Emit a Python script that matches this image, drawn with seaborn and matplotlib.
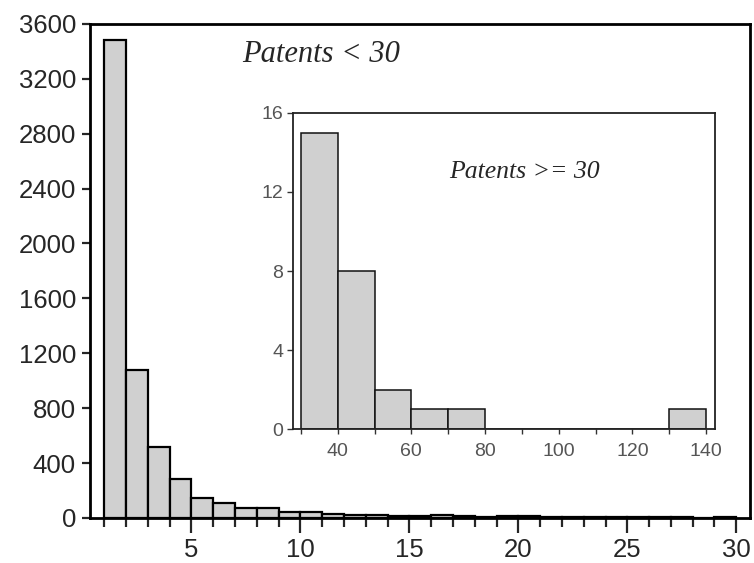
import pandas as pd
import matplotlib.pyplot as plt
import seaborn as sns

# patents below 30: bins of width 1 starting at 1, 2, ..., 29
low_starts = list(range(1, 30))
low_counts = [3480, 1080, 520, 284, 145, 110, 72, 72, 45, 42,
              32, 22, 20, 14, 12, 20, 12, 8, 12, 12,
              6, 5, 5, 5, 5, 5, 4, 1, 6]

# patents of 30 and above: bins of width 10 starting at 30, 40, ..., 130
high_starts = list(range(30, 140, 10))
high_counts = [15, 8, 2, 1, 1, 0, 0, 0, 0, 0, 1]

main_yticks = [0, 400, 800, 1200, 1600, 2000, 2400, 2800, 3200, 3600]
main_xticks = [5, 10, 15, 20, 25, 30]
inset_yticks = [0, 4, 8, 12, 16]
inset_xticks = [40, 60, 80, 100, 120, 140]
inset_minor = [30, 50, 70, 90, 110, 130]

low_df = pd.DataFrame({'patents': low_starts, 'firms': low_counts})
high_df = pd.DataFrame({'patents': high_starts, 'firms': high_counts})

sns.set_style('ticks')
plt.rcParams['font.family'] = ['Liberation Sans', 'DejaVu Sans']

fig = plt.figure(figsize=(7.54, 5.63), dpi=100)

# main histogram
ax = fig.add_axes([0.120, 0.080, 0.875, 0.8775])
sns.histplot(data=low_df, x='patents', weights='firms', binwidth=1, binrange=(1, 30),
             common_bins=False, ax=ax, color='#d0d0d0', edgecolor='black',
             linewidth=1.6, alpha=1)
ax.set_xlim(0.37, 30.64)
ax.set_ylim(0, 3600)
ax.set_xlabel('')
ax.set_ylabel('')
ax.set_yticks(main_yticks)
ax.set_xticks(main_xticks)
ax.set_xticks(range(1, 31), minor=True)
for side in ['left', 'right', 'top', 'bottom']:
    ax.spines[side].set_visible(True)
    ax.spines[side].set_linewidth(2)
    ax.spines[side].set_color('black')
ax.tick_params(axis='x', which='major', length=11, width=1.6, labelsize=18.5, pad=3.5)
ax.tick_params(axis='x', which='minor', length=6.5, width=1.6)
ax.tick_params(axis='y', length=6, width=1.6, labelsize=18.5, pad=4.5)
fig.text(0.3206, 0.8904, 'Patents < 30', family=['Liberation Serif'],
         style='italic', fontsize=22, va='baseline')

# inset histogram
axi = fig.add_axes([0.3882, 0.2380, 0.5601, 0.5613])
axi.set_facecolor('white')
sns.histplot(data=high_df, x='patents', weights='firms', binwidth=10, binrange=(30, 140),
             common_bins=False, ax=axi, color='#d0d0d0', edgecolor='#111111',
             linewidth=1.1, alpha=1)
axi.set_xlim(27.8, 142.4)
axi.set_ylim(0, 16)
axi.set_xlabel('')
axi.set_ylabel('')
axi.set_yticks(inset_yticks)
axi.set_xticks(inset_xticks)
axi.set_xticks(inset_minor, minor=True)
for side in ['left', 'right', 'top', 'bottom']:
    axi.spines[side].set_visible(True)
    axi.spines[side].set_linewidth(1.3)
    axi.spines[side].set_color('#222222')
axi.tick_params(axis='x', which='both', length=3.5, width=1, color='#333333',
                labelcolor='#555555', labelsize=14, pad=6.5)
axi.tick_params(axis='y', length=4.3, width=1, color='#333333',
                labelcolor='#555555', labelsize=14, pad=2.5)
fig.text(0.5955, 0.6833, 'Patents >= 30', family=['Liberation Serif'],
         style='italic', fontsize=18.5, va='baseline')

fig.savefig('out.png', dpi=100)
